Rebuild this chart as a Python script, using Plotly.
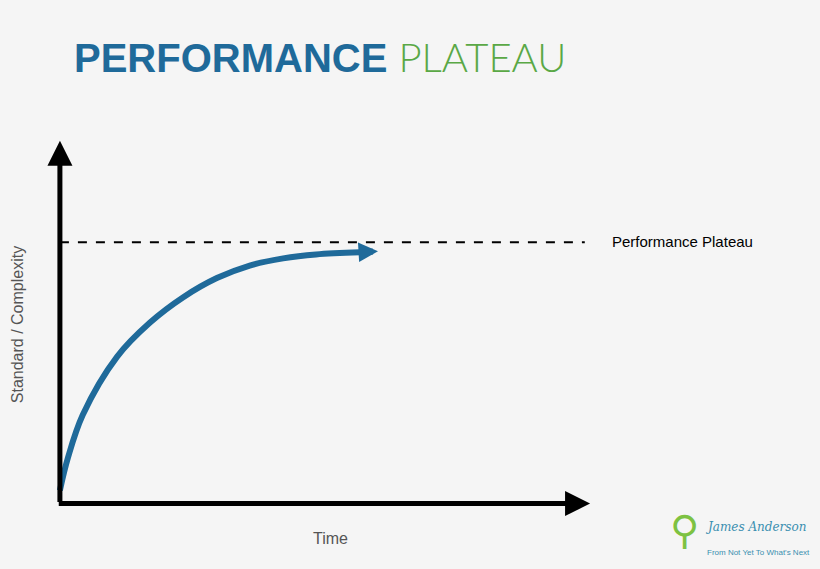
import plotly.graph_objects as go

time = [0.0, 0.15, 0.43, 1.08, 1.70, 2.32, 2.96, 3.58, 4.21, 4.83, 5.66, 6.0]
standard = [0.25, 1.15, 2.35, 3.98, 4.93, 5.63, 6.17, 6.52, 6.72, 6.83, 6.89, 6.92]
plateau_level = 7.17
plateau_x = [0.0, 9.9]
y_axis_top = 10.0
x_axis_end = 10.0

fig = go.Figure()
fig.add_trace(go.Scatter(x=time[:-1], y=standard[:-1], mode="lines", line=dict(color="#1f6a9a", width=6, shape="spline", smoothing=1.0), hoverinfo="skip"))
fig.add_trace(go.Scatter(x=plateau_x, y=[plateau_level]*2, mode="lines", line=dict(color="black", width=2, dash="dash"), hoverinfo="skip"))

fig.update_layout(width=820, height=569, showlegend=False, paper_bgcolor="#f5f5f5", plot_bgcolor="#f5f5f5",
    margin=dict(l=44, r=214, t=130, b=59),
    xaxis=dict(range=[-0.3, 10.3], visible=False), yaxis=dict(range=[-0.3, 10.3], visible=False),
    font=dict(family="Liberation Sans"))

fig.add_annotation(x=time[-1], y=standard[-1], ax=time[-2], ay=standard[-2], xref="x", yref="y", axref="x", ayref="y",
    text="", showarrow=True, arrowhead=2, arrowsize=0.65, arrowwidth=6, arrowcolor="#1f6a9a", standoff=0)
fig.add_annotation(x=0, y=y_axis_top, ax=0, ay=-0.12, xref="x", yref="y", axref="x", ayref="y",
    text="", showarrow=True, arrowhead=2, arrowsize=1.0, arrowwidth=5, arrowcolor="black")
fig.add_annotation(x=x_axis_end, y=-0.12, ax=-0.05, ay=-0.12, xref="x", yref="y", axref="x", ayref="y",
    text="", showarrow=True, arrowhead=2, arrowsize=1.0, arrowwidth=5, arrowcolor="black")

def pa(text, px, py, **kw):
    fig.add_annotation(text=text, x=(px-44)/546, y=(510-py)/380, xref="paper", yref="paper", showarrow=False, **kw)

pa("<b>PERFORMANCE</b> <span style='color:#5aa846;font-family:Lato;font-weight:300'>PLATEAU</span>", 71, 57, xanchor="left", yanchor="middle",
   font=dict(size=40, color="#1f6a9a", family="Liberation Sans"))
pa("Performance Plateau", 594, 241, xanchor="left", yanchor="middle", font=dict(size=15, color="black", family="Liberation Sans"))
pa("Time", 322, 538, xanchor="center", yanchor="middle", font=dict(size=16, color="#555", family="Liberation Sans"))
pa("Standard / Complexity", 18, 325, xanchor="center", yanchor="middle", textangle=-90, font=dict(size=16, color="#555", family="Liberation Sans"))
pa("<i>James Anderson</i>", 684, 527, xanchor="left", yanchor="middle", font=dict(size=12, color="#3a8fb0", family="DejaVu Serif"))
pa("From Not Yet To What's Next", 686, 552, xanchor="left", yanchor="middle", font=dict(size=8, color="#3a8fb0", family="Liberation Sans"))
pa("⚲", 666, 530, xanchor="center", yanchor="middle", font=dict(size=40, color="#7dc242"))
fig.write_html("out.html", config={"displayModeBar": False}, post_script="document.body.style.margin='0';")
